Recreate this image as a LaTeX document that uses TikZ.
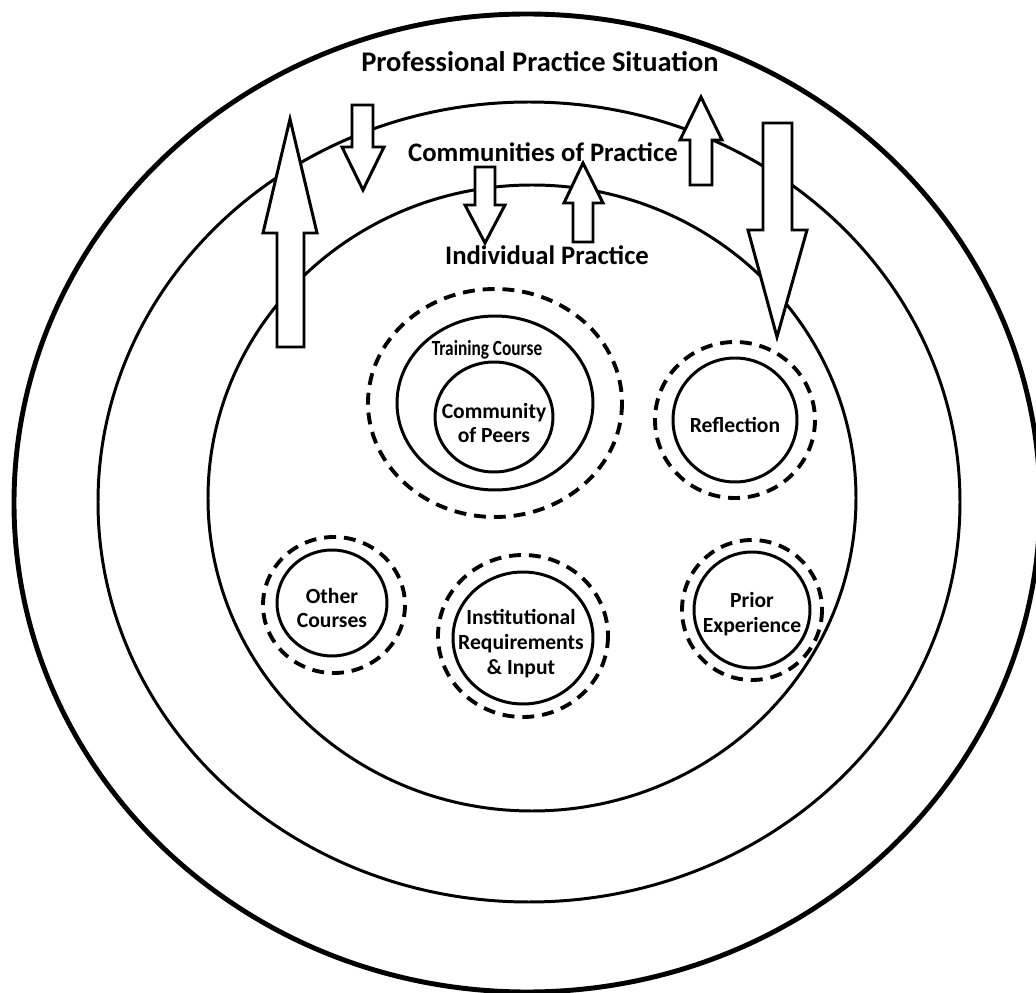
\documentclass[tikz,border=0pt]{standalone}
\usepackage{fontspec}
\setmainfont{Carlito}
\usepackage{tikz}

\begin{document}
\begin{tikzpicture}[x=0.02cm,y=-0.02cm,
    ring/.style={line width=1.7pt},
    dashring/.style={line width=2.2pt,dash pattern=on 6.8pt off 4.5pt},
    blockarrow/.style={line width=1.7pt,fill=white,line join=miter},
    bigtitle/.style={font=\bfseries\fontsize{15.2}{17}\selectfont},
    label/.style={font=\bfseries\fontsize{12.3}{14.2}\selectfont,align=center}]
    \useasboundingbox[fill=white](0,0) rectangle (1036,993);
    % practice levels
    \draw[line width=2.8pt](527,503) ellipse (513 and 489);
    \draw[ring](529,502) ellipse (431 and 400);
    \draw[ring](532,498) ellipse (324 and 313);
    % training course
    \draw[dashring](495,403) ellipse (127 and 114);
    \draw[ring](495,403) ellipse (98 and 87);
    \draw[ring](494,417) ellipse (59 and 55);
    % other circles
    \draw[dashring](735,420) ellipse (80 and 78);
    \draw[ring](735,420) ellipse (62 and 62);
    \draw[dashring](334,605) ellipse (71 and 68);
    \draw[ring](332,603) ellipse (55 and 53);
    \draw[dashring](523,636) ellipse (85 and 81);
    \draw[ring](523,638) ellipse (70 and 66);
    \draw[dashring](752,610) ellipse (70 and 70);
    \draw[ring](752,610) ellipse (58 and 58);
    % block arrows
    \draw[blockarrow](277,347)--(277,233)--(263,233)--(290,119)--(317,233)--(304,233)--(304,347)--cycle;
    \draw[blockarrow](352,105)--(352,147)--(342,147)--(363,190)--(384,147)--(373,147)--(373,105)--cycle;
    \draw[blockarrow](475,167)--(475,205)--(465,205)--(485,243)--(505,205)--(495,205)--(495,167)--cycle;
    \draw[blockarrow](573,242)--(573,203)--(564,203)--(583,163)--(603,203)--(593,203)--(593,242)--cycle;
    \draw[blockarrow](690,185)--(690,140)--(680,140)--(701,97)--(722,140)--(712,140)--(712,185)--cycle;
    \draw[blockarrow](763,123)--(763,230)--(748,230)--(777,337)--(807,230)--(792,230)--(792,123)--cycle;
    % labels
    \node[bigtitle,font=\bfseries\fontsize{16.2}{18}\selectfont] (pps) at (540,62) {Professional Practice Situation};
    \node[bigtitle] (cop) at (543,152) {Communities of Practice};
    \node[bigtitle] (ip) at (547,255) {Individual Practice};
    \node[label] (tc) at (487,350) {\scalebox{0.8}[1]{Training Course}};
    \node[label] (peers) at (494,423) {Community\\of Peers};
    \node[label] (refl) at (735,425) {Reflection};
    \node[label] (other) at (332,608) {Other\\Courses};
    \node[label] (inst) at (521,644) {Institutional\\Requirements\\\& Input};
    \node[label] (prior) at (752,614) {Prior\\Experience};
\end{tikzpicture}
\end{document}
